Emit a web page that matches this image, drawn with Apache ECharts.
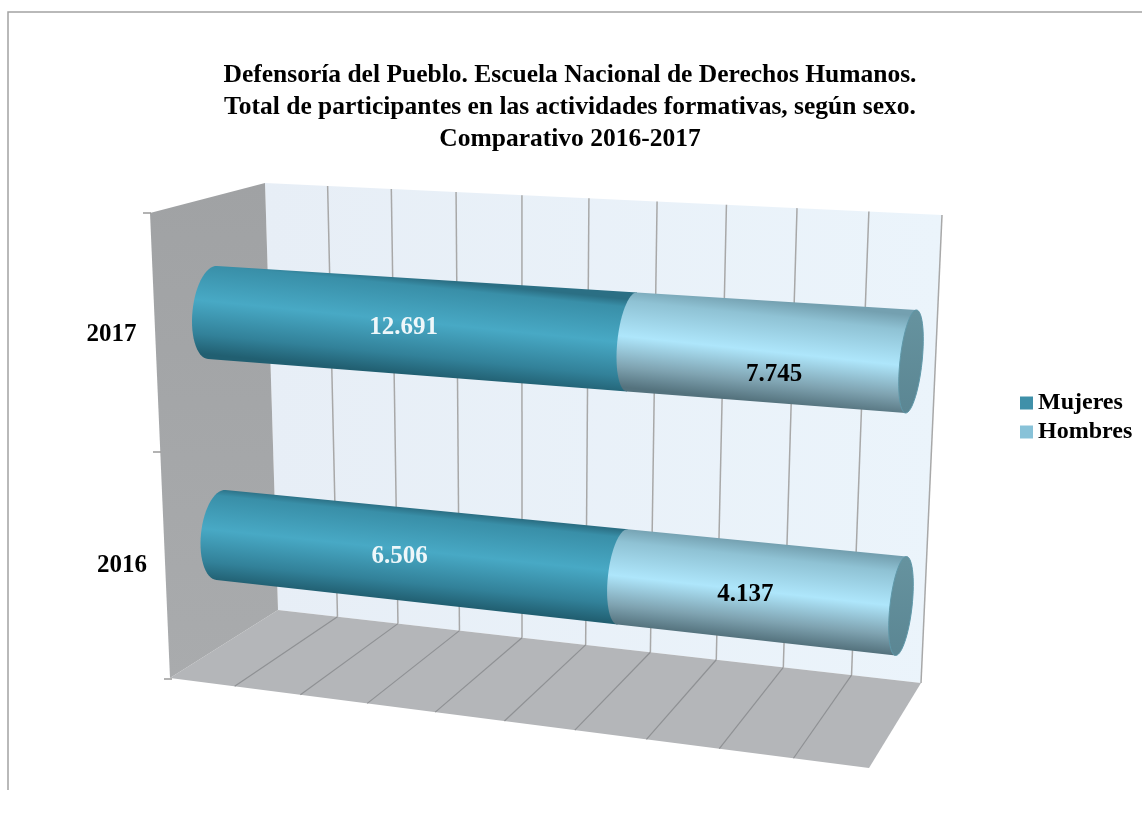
<!DOCTYPE html>
<html>
<head>
<meta charset="utf-8">
<title>Defensoría del Pueblo</title>
<script src="https://cdn.jsdelivr.net/npm/echarts@6/dist/echarts.min.js"></script>
<style>
html, body { margin: 0; padding: 0; background: #fff; }
#main { width: 1142px; height: 814px; }
</style>
</head>
<body>
<div id="main"></div>
<script>
var years = ['2016', '2017'];
var mujeres = [6506, 12691];
var hombres = [4137, 7745];
var ticks = [0, 10, 20, 30, 40, 50, 60, 70, 80, 90, 100];

// picture geometry of the fake 3D box
var depth = 1.09;
var wallTL = [265, 183], wallTR = [942, 215], wallBL = [278, 610], wallBR = [921, 683];
var floorFL = [170, 678], floorFR = [869, 768];
var sideTL = [150, 213];
var font = 'bold 25px "Liberation Serif", "Times New Roman", serif';

function lerp(a, b, t) { return a + (b - a) * t; }
function lerpP(a, b, t) { return [lerp(a[0], b[0], t), lerp(a[1], b[1], t)]; }
function persp(u) { return u / ((1 - u) * depth + u); }
function fmt(n) { return String(n).replace(/\B(?=(\d{3})+$)/g, '.'); }

// grid pixel -> point on the plane the cylinders lie in
function warp(p, sys) {
    var t = persp((p[0] - sys.x) / sys.width);
    var v = ((p[1] - sys.y) / sys.height - 0.25) / 0.5;
    var a = lerpP([212.5, 312.5], [221, 535], v);
    var b = lerpP([911, 361.5], [901, 606], v);
    var c = lerpP(a, b, t);
    return {
        x: c[0], y: c[1], t: t,
        r: lerp(lerp(46.5, 45, v), lerp(51.5, 49.5, v), t),
        rx: lerp(20, 11, t),
        tilt: lerp(4.5, 5.5, t)
    };
}

// ellipse ring across the cylinder, from angle a0 to a1 in degrees
function ring(c, a0, a1) {
    var pts = [];
    for (var d = a0; d <= a1; d += 6) {
        var s = Math.sin(d * Math.PI / 180), k = Math.cos(d * Math.PI / 180);
        pts.push([c.x + c.tilt * s + c.rx * k, c.y - c.r * s + c.rx * k * 0.07]);
    }
    return pts;
}

function bodyFill(a, b, stops) {
    var mx = (a.x + b.x) / 2, my = (a.y + b.y) / 2, r = (a.r + b.r) / 2, tl = (a.tilt + b.tilt) / 2;
    return new echarts.graphic.LinearGradient(mx + tl, my - r, mx - tl, my + r, stops, true);
}

var mujeresStops = [
    { offset: 0, color: '#2b6f84' }, { offset: 0.08, color: '#398fa8' },
    { offset: 0.45, color: '#48a9c5' }, { offset: 0.8, color: '#328199' }, { offset: 1, color: '#215f71' }
];
var hombresStops = [
    { offset: 0, color: '#74a0b0' }, { offset: 0.15, color: '#8fc2d4' },
    { offset: 0.5, color: '#aee6fb' }, { offset: 0.8, color: '#7fa3b1' }, { offset: 1, color: '#54727d' }
];

function pctOf(i) { return 100 / (mujeres[i] + hombres[i]); }

var mujeresData = years.map(function (y, i) {
    return [0, mujeres[i] * pctOf(i), i, mujeres[i]];
});
var hombresData = years.map(function (y, i) {
    return [mujeres[i] * pctOf(i), 100, i, hombres[i]];
});
var mujeresNudge = [[-17, 1], [-13, 1]];
var hombresNudge = [[-14, 3], [5, 23]];
var yearNudge = [[-99, 31], [-101, 22]];

function renderBar(params, api, stops, isLast, textColor, nudge) {
    var sys = params.coordSys;
    var cat = api.value(2);
    var a = warp(api.coord([api.value(0), cat]), sys);
    var b = warp(api.coord([api.value(1), cat]), sys);
    var m = warp(api.coord([(api.value(0) + api.value(1)) / 2, cat]), sys);
    var top = ring(b, 90, 90)[0], bot = ring(b, 270, 270)[0];
    var pts = ring(a, 90, 270).concat([bot, top]);
    var kids = [{ type: 'polygon', shape: { points: pts }, style: { fill: bodyFill(a, b, stops) } }];
    if (isLast) {
        kids.push({
            type: 'polygon', shape: { points: ring(b, 0, 360) },
            style: { fill: new echarts.graphic.LinearGradient(b.x, b.y - b.r, b.x, b.y + b.r, [
                { offset: 0, color: '#66939f' }, { offset: 1, color: '#5b8693' }
            ], true), stroke: '#5f98a9', lineWidth: 1 }
        });
    }
    var n = nudge[params.dataIndex];
    kids.push({
        type: 'text', z2: 10,
        style: {
            x: m.x + n[0], y: m.y + n[1], text: fmt(api.value(3)), fill: textColor,
            font: font, align: 'center', verticalAlign: 'middle'
        }
    });
    return { type: 'group', children: kids };
}

var myChart = echarts.init(document.getElementById('main'));
var option = {
    animation: false,
    backgroundColor: '#fff',
    title: {
        text: 'Defensoría del Pueblo. Escuela Nacional de Derechos Humanos.\nTotal de participantes en las actividades formativas, según sexo.\nComparativo 2016-2017',
        left: 570,
        top: 59,
        textAlign: 'center',
        textStyle: { fontFamily: '"Liberation Serif", serif', fontWeight: 'bold', fontSize: 25.5, lineHeight: 32, color: '#000' },
        padding: 0
    },
    legend: {
        data: ['Mujeres', 'Hombres'],
        orient: 'vertical',
        left: 1020,
        top: 391,
        padding: 0,
        itemWidth: 13,
        itemHeight: 13,
        itemGap: 5,
        icon: 'rect',
        textStyle: { fontFamily: '"Liberation Serif", serif', fontWeight: 'bold', fontSize: 24, color: '#000' }
    },
    grid: { left: 200, right: 200, top: 200, bottom: 200 },
    xAxis: { type: 'value', min: 0, max: 100, interval: 10, show: false },
    yAxis: { type: 'category', data: years, show: false },
    graphic: [
        { type: 'polyline', silent: true, shape: { points: [[1142, 12], [8, 12], [8, 790]] }, style: { stroke: '#a3a3a3', lineWidth: 1.5, fill: null } },
        { type: 'polygon', silent: true, shape: { points: [wallTL, wallTR, wallBR, wallBL] },
          style: { fill: new echarts.graphic.LinearGradient(0, 0, 1, 0, [{ offset: 0, color: '#e7eef6' }, { offset: 1, color: '#ebf4fb' }]) } },
        { type: 'polygon', silent: true, shape: { points: [wallBL, wallBR, floorFR, floorFL] }, style: { fill: '#b4b6b9' } },
        { type: 'polygon', silent: true, shape: { points: [sideTL, wallTL, wallBL, floorFL] },
          style: { fill: new echarts.graphic.LinearGradient(0, 0, 0, 1, [{ offset: 0, color: '#a0a2a4' }, { offset: 1, color: '#a9abad' }]) } },
        { type: 'line', silent: true, shape: { x1: 143, y1: 213, x2: 151, y2: 213 }, style: { stroke: '#9a9a9a', lineWidth: 1.5 } },
        { type: 'line', silent: true, shape: { x1: 153, y1: 452, x2: 161, y2: 452 }, style: { stroke: '#9a9a9a', lineWidth: 1.5 } },
        { type: 'line', silent: true, shape: { x1: 164, y1: 679, x2: 172, y2: 679 }, style: { stroke: '#9a9a9a', lineWidth: 1.5 } }
    ],
    series: [
        {
            name: 'rejilla',
            type: 'custom',
            silent: true,
            encode: { x: 0, y: 1 },
            data: ticks.map(function (t) { return [t, 0]; }),
            renderItem: function (params, api) {
                var sys = params.coordSys;
                var t = persp((api.coord([api.value(0), 0])[0] - sys.x) / sys.width);
                var top = lerpP(wallTL, wallTR, t), bot = lerpP(wallBL, wallBR, t), front = lerpP(floorFL, floorFR, t);
                var st = { stroke: '#a8a8a8', lineWidth: 1.5, fill: null };
                var kids = [];
                if (api.value(0) > 0) {
                    kids.push({ type: 'line', shape: { x1: top[0], y1: top[1], x2: bot[0], y2: bot[1] }, style: st });
                }
                if (api.value(0) > 0 && api.value(0) < 100) {
                    kids.push({ type: 'line', shape: { x1: bot[0], y1: bot[1], x2: front[0], y2: front[1] }, style: { stroke: '#8f9194', lineWidth: 1.2 } });
                }
                return { type: 'group', children: kids };
            }
        },
        {
            name: 'Mujeres',
            type: 'custom',
            itemStyle: { color: '#3f90a9' },
            encode: { x: [0, 1], y: 2 },
            data: mujeresData,
            renderItem: function (params, api) {
                return renderBar(params, api, mujeresStops, false, '#eef7fa', mujeresNudge);
            }
        },
        {
            name: 'Hombres',
            type: 'custom',
            itemStyle: { color: '#88c2d8' },
            encode: { x: [0, 1], y: 2 },
            data: hombresData,
            renderItem: function (params, api) {
                return renderBar(params, api, hombresStops, true, '#000', hombresNudge);
            }
        },
        {
            name: 'años',
            type: 'custom',
            silent: true,
            encode: { x: 0, y: 1 },
            data: years.map(function (y, i) { return [0, i]; }),
            renderItem: function (params, api) {
                var c = warp(api.coord([0, api.value(1)]), params.coordSys);
                var n = yearNudge[params.dataIndex];
                return {
                    type: 'text',
                    style: {
                        x: c.x + n[0], y: c.y + n[1], text: years[params.dataIndex], fill: '#000',
                        font: font, align: 'center', verticalAlign: 'middle'
                    }
                };
            }
        }
    ]
};
myChart.setOption(option);
</script>
</body>
</html>
